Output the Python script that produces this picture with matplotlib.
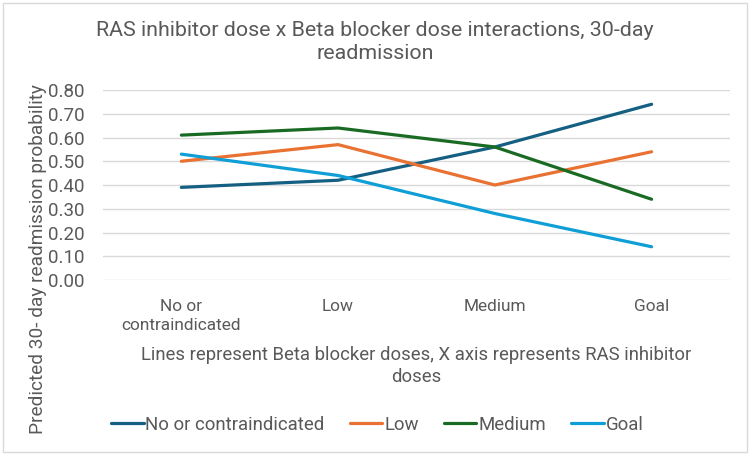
import matplotlib
matplotlib.use("Agg")
import matplotlib.pyplot as plt
from matplotlib.patches import Rectangle

categories = ["No or\ncontraindicated", "Low", "Medium", "Goal"]
series_names = ["No or contraindicated", "Low", "Medium", "Goal"]
no_or_contra = [0.39, 0.42, 0.56, 0.74]
low = [0.50, 0.57, 0.40, 0.54]
medium = [0.61, 0.64, 0.56, 0.34]
goal = [0.53, 0.44, 0.28, 0.14]
yticks = [0.0, 0.1, 0.2, 0.3, 0.4, 0.5, 0.6, 0.7, 0.8]

colors = ["#156082", "#E97132", "#196B24", "#0F9ED5"]
grey = "#595959"
plt.rcParams['font.family'] = ['Roboto', 'DejaVu Sans']

fig = plt.figure(figsize=(7.5, 4.55), dpi=100)
ax = fig.add_axes([0.1373, 0.3846, 0.836, 0.4176])
x = list(range(len(categories)))
for vals, name, c in zip([no_or_contra, low, medium, goal], series_names, colors):
    ax.plot(x, vals, color=c, lw=2.3, label=name, solid_capstyle='round')

ax.set_xlim(-0.5, 3.5)
ax.set_ylim(0, 0.8)
ax.set_yticks(yticks)
ax.set_yticklabels([f"{v:.2f}" for v in yticks], color=grey, fontsize=13.5)
ax.set_xticks(x)
ax.set_xticklabels(categories, color=grey, fontsize=12.4, linespacing=1.3)
ax.tick_params(axis='both', length=0)
ax.tick_params(axis='y', pad=13)
ax.tick_params(axis='x', pad=14)
ax.grid(axis='y', color='#D9D9D9', lw=1)
ax.set_axisbelow(True)
for s in ax.spines.values():
    s.set_visible(False)

fig.text(0.5, 0.908, "RAS inhibitor dose x Beta blocker dose interactions, 30-day\nreadmission",
         ha='center', va='center', fontsize=15.4, color=grey, linespacing=1.3)
fig.text(0.555, 0.196, "Lines represent Beta blocker doses, X axis represents RAS inhibitor\ndoses",
         ha='center', va='center', fontsize=13.3, color=grey, linespacing=1.25)
fig.text(0.051, 0.431, "Predicted 30- day readmission probability", rotation=90,
         ha='center', va='center', fontsize=13.7, color=grey)

leg = fig.legend(loc='center', bbox_to_anchor=(0.503, 0.066), ncol=4, frameon=False,
                 fontsize=13.4, handlelength=1.75, handletextpad=0.1, columnspacing=1.35,
                 labelcolor=grey)

fig.patches.append(Rectangle((0.004, 0.006), 0.992, 0.988, transform=fig.transFigure,
                             fill=False, edgecolor='#D9D9D9', lw=1))
fig.savefig("out.png", dpi=100)
